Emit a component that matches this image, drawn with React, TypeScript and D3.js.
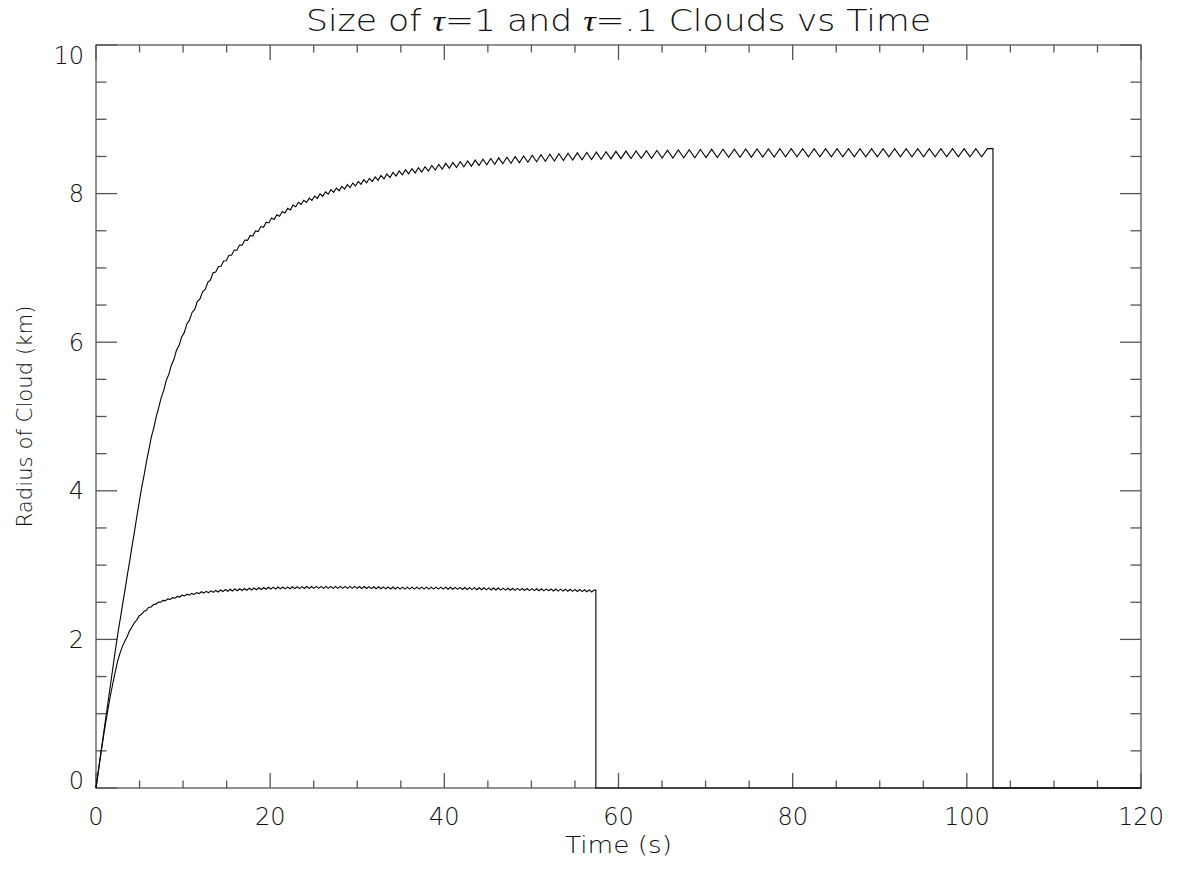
import React, { useEffect, useRef } from "react";
import * as d3 from "d3";

// readings (time in s, radius in km)
const tau1Time = [0, 1, 2.4, 4, 5.1, 6.2, 7.2, 8.1, 9.3, 10.6, 11.8, 13.5, 15.4, 17.3, 20, 23, 27, 30.7, 35, 40, 45, 50, 55, 60, 70, 80, 90, 103];
const tau1Radius = [0, 0.84, 2.0, 3.15, 3.95, 4.64, 5.13, 5.49, 5.9, 6.28, 6.57, 6.93, 7.17, 7.38, 7.64, 7.85, 8.03, 8.16, 8.28, 8.37, 8.43, 8.47, 8.5, 8.52, 8.54, 8.55, 8.55, 8.55];
const tau1End = 103;

const tau01Time = [0, 0.5, 1, 1.5, 2, 2.5, 3, 3.5, 4, 5, 6, 7, 8, 10, 12, 15, 20, 25, 30, 35, 40, 45, 50, 55, 57.4];
const tau01Radius = [0, 0.42, 0.8, 1.15, 1.45, 1.72, 1.9, 2.02, 2.15, 2.32, 2.42, 2.49, 2.53, 2.59, 2.63, 2.66, 2.69, 2.7, 2.7, 2.69, 2.69, 2.68, 2.67, 2.66, 2.65];
const tau01End = 57.4;

// sawtooth ripple on each curve: period (s) and peak-to-trough size (km)
const tau1RippleTime = [0, 5, 10, 30, 50, 70, 103];
const tau1RipplePeriod = [0.5, 0.55, 0.6, 0.63, 1.0, 1.3, 1.34];
const tau1RippleAmp = [0, 0.01, 0.03, 0.05, 0.09, 0.11, 0.11];

const tau01RippleTime = [0, 5, 15, 57.4];
const tau01RipplePeriod = [0.55, 0.55, 0.55, 0.55];
const tau01RippleAmp = [0, 0.01, 0.025, 0.027];

const xMajor = [0, 20, 40, 60, 80, 100, 120];
const yMajor = [0, 2, 4, 6, 8, 10];

const W = 1177, H = 869;
const left = 96, right = 1141, top = 45, bottom = 788;
const FONT = "'DejaVu Sans', sans-serif";

function buildSeries(times: number[], vals: number[], end: number, rt: number[], rp: number[], ra: number[]) {
  const center = d3.scaleLinear().domain(times).range(vals).clamp(true);
  const period = d3.scaleLinear().domain(rt).range(rp).clamp(true);
  const amp = d3.scaleLinear().domain(rt).range(ra).clamp(true);
  const pts: [number, number][] = [[0, 0]];
  let t = 0, up = false;
  while (true) {
    t += period(t) / 2;
    if (t >= end) break;
    pts.push([t, center(t) + (up ? 0.5 : -0.5) * amp(t)]);
    up = !up;
  }
  pts.push([end, center(end) + 0.5 * amp(end)]);
  pts.push([end, 0]);
  pts.push([120, 0]);
  return pts;
}

const Chart = () => {
  const ref = useRef<SVGSVGElement>(null);

  useEffect(() => {
    const svg = d3.select(ref.current);
    svg.selectAll("*").remove();

    const x = d3.scaleLinear().domain([0, 120]).range([left, right]);
    const y = d3.scaleLinear().domain([0, 10]).range([bottom, top]);

    const axisColor = "#555";
    const g = svg.append("g");

    // box
    g.append("rect")
      .attr("x", left).attr("y", top)
      .attr("width", right - left).attr("height", bottom - top)
      .attr("fill", "none").attr("stroke", axisColor).attr("stroke-width", 1.3);

    // x ticks (major 20, minor 5) on bottom and top
    const xMinor = d3.range(0, 121, 5);
    xMinor.forEach((v) => {
      const len = v % 20 === 0 ? 15 : 7.5;
      g.append("line").attr("x1", x(v)).attr("x2", x(v)).attr("y1", bottom).attr("y2", bottom - len)
        .attr("stroke", axisColor).attr("stroke-width", 1.3);
      g.append("line").attr("x1", x(v)).attr("x2", x(v)).attr("y1", top).attr("y2", top + len)
        .attr("stroke", axisColor).attr("stroke-width", 1.3);
    });

    // y ticks (major 2, minor 0.5) on left and right
    const yMinor = d3.range(0, 10.01, 0.5);
    yMinor.forEach((v) => {
      const len = Math.abs(v % 2) < 1e-6 ? 21 : 10.5;
      g.append("line").attr("x1", left).attr("x2", left + len).attr("y1", y(v)).attr("y2", y(v))
        .attr("stroke", axisColor).attr("stroke-width", 1.3);
      g.append("line").attr("x1", right).attr("x2", right - len).attr("y1", y(v)).attr("y2", y(v))
        .attr("stroke", axisColor).attr("stroke-width", 1.3);
    });

    // tick labels
    g.selectAll(".xl").data(xMajor).enter().append("text")
      .attr("x", (d) => x(d)).attr("y", 825)
      .attr("text-anchor", "middle")
      .attr("font-family", FONT).attr("font-weight", 200).attr("font-size", 24)
      .attr("fill", "#111")
      .text((d) => d);

    g.selectAll(".yl").data(yMajor).enter().append("text")
      .attr("x", 84)
      .attr("y", (d) => Math.min(Math.max(y(d), top + 10), bottom - 8))
      .attr("dy", "0.36em")
      .attr("text-anchor", "end")
      .attr("font-family", FONT).attr("font-weight", 200).attr("font-size", 24)
      .attr("fill", "#111")
      .text((d) => d);

    // axis titles
    g.append("text")
      .attr("x", (left + right) / 2).attr("y", 853)
      .attr("text-anchor", "middle")
      .attr("font-family", FONT).attr("font-weight", 200).attr("font-size", 23)
      .attr("textLength", 107).attr("lengthAdjust", "spacingAndGlyphs")
      .attr("fill", "#111")
      .text("Time (s)");

    g.append("text")
      .attr("transform", `translate(32, ${(top + bottom) / 2}) rotate(-90)`)
      .attr("text-anchor", "middle")
      .attr("font-family", FONT).attr("font-weight", 200).attr("font-size", 22)
      .attr("textLength", 222).attr("lengthAdjust", "spacingAndGlyphs")
      .attr("fill", "#111")
      .text("Radius of Cloud (km)");

    // title
    const title = g.append("text")
      .attr("x", (left + right) / 2).attr("y", 31)
      .attr("text-anchor", "middle")
      .attr("font-family", FONT).attr("font-weight", 200).attr("font-size", 30)
      .attr("textLength", 625).attr("lengthAdjust", "spacingAndGlyphs")
      .attr("fill", "#111");
    title.append("tspan").text("Size of ");
    title.append("tspan").attr("font-family", "'Liberation Serif', serif").attr("font-style", "italic").attr("font-weight", 400).text("τ");
    title.append("tspan").text("=1 and ");
    title.append("tspan").attr("font-family", "'Liberation Serif', serif").attr("font-style", "italic").attr("font-weight", 400).text("τ");
    title.append("tspan").text("=.1 Clouds vs Time");

    // data lines
    const line = d3.line<[number, number]>()
      .x((d) => x(d[0]))
      .y((d) => y(d[1]));

    const s1 = buildSeries(tau1Time, tau1Radius, tau1End, tau1RippleTime, tau1RipplePeriod, tau1RippleAmp);
    const s2 = buildSeries(tau01Time, tau01Radius, tau01End, tau01RippleTime, tau01RipplePeriod, tau01RippleAmp);

    [s1, s2].forEach((s) => {
      g.append("path")
        .attr("d", line(s))
        .attr("fill", "none")
        .attr("stroke", "#000")
        .attr("stroke-width", 1.1)
        .attr("stroke-linejoin", "miter");
    });
  }, []);

  return <svg ref={ref} width={W} height={H} style={{ position: "absolute", left: 0, top: 0, background: "#fff" }} />;
};

export default function App() {
  return <Chart />;
}
